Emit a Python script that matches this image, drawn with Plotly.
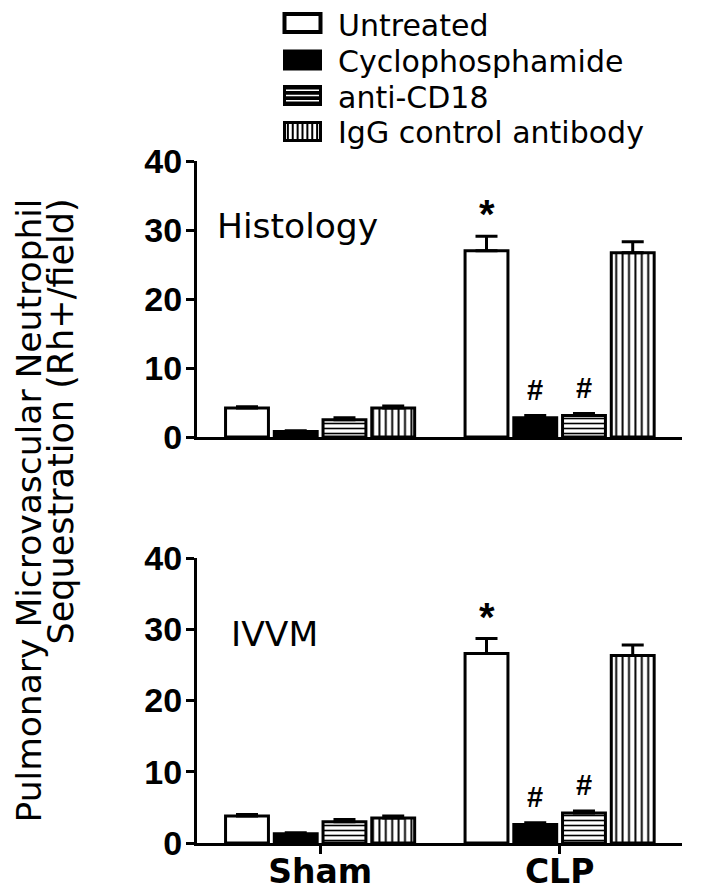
import plotly.graph_objects as go

# ---------------- data ----------------
groups = ["Sham", "CLP"]
series = ["Untreated", "Cyclophosphamide", "anti-CD18", "IgG control antibody"]

hist_untreated = [4.2, 27.0]
hist_cyclo = [0.8, 2.8]
hist_antiCD18 = [2.5, 3.1]
hist_igg = [4.2, 26.7]
hist_err_untreated = [0.2, 2.1]
hist_err_cyclo = [0.1, 0.3]
hist_err_antiCD18 = [0.3, 0.3]
hist_err_igg = [0.3, 1.6]

ivvm_untreated = [3.8, 26.6]
ivvm_cyclo = [1.3, 2.6]
ivvm_antiCD18 = [3.0, 4.2]
ivvm_igg = [3.5, 26.3]
ivvm_err_untreated = [0.2, 2.1]
ivvm_err_cyclo = [0.15, 0.25]
ivvm_err_antiCD18 = [0.3, 0.3]
ivvm_err_igg = [0.3, 1.5]

marks_untreated = ["", "*"]
marks_cyclo = ["", "#"]
marks_antiCD18 = ["", "#"]
marks_igg = ["", ""]

y_ticks = [0, 10, 20, 30, 40]
panel_labels = ["Histology", "IVVM"]
y_title_lines = ["Pulmonary Microvascular Neutrophil", "Sequestration (Rh+/field)"]

# ---------------- layout geometry ----------------
# the page body has an 8px default margin, so the figure is drawn 8px in
OFF = 8
W, H = 702 - OFF, 894 - OFF
L, R, T, B = 197 - OFF, 20, 161 - OFF, 51
PW, PH = W - L - R, H - T - B


def X(px):  # page pixel -> paper
    return (px - OFF - L) / PW


def Y(py):  # page pixel -> paper
    return (H - B - (py - OFF)) / PH


top_dom = [Y(437), 1.0]
bot_dom = [0.0, Y(558)]

bargap = 0.186
bargroupgap = 0.12
slot = (1 - bargap) / len(series)

TEXT_FONT = "DejaVu Sans"
TICK_FONT = "Liberation Sans"

styles = [
    dict(color="white", pattern=None),
    dict(color="black", pattern=None),
    dict(color="white", pattern=dict(shape="-", fgcolor="black", bgcolor="white", size=5, solidity=0.32)),
    dict(color="white", pattern=dict(shape="|", fgcolor="black", bgcolor="white", size=6.4, solidity=0.3)),
]

panels = [
    dict(xa="x", ya="y",
         means=[hist_untreated, hist_cyclo, hist_antiCD18, hist_igg],
         errs=[hist_err_untreated, hist_err_cyclo, hist_err_antiCD18, hist_err_igg]),
    dict(xa="x2", ya="y2",
         means=[ivvm_untreated, ivvm_cyclo, ivvm_antiCD18, ivvm_igg],
         errs=[ivvm_err_untreated, ivvm_err_cyclo, ivvm_err_antiCD18, ivvm_err_igg]),
]
marks = [marks_untreated, marks_cyclo, marks_antiCD18, marks_igg]

fig = go.Figure()
annotations = []
xpos = list(range(len(groups)))

for p in panels:
    for i, name in enumerate(series):
        st = styles[i]
        marker = dict(color=st["color"], line=dict(color="black", width=3))
        if st["pattern"] is not None:
            marker["pattern"] = st["pattern"]
        fig.add_trace(go.Bar(
            x=xpos, y=p["means"][i], name=name,
            marker=marker,
            error_y=dict(type="data", array=p["errs"][i], arrayminus=[0] * len(groups),
                         symmetric=False, color="black", thickness=3, width=11),
            xaxis=p["xa"], yaxis=p["ya"], showlegend=False, offsetgroup=str(i),
        ))
        for g in xpos:
            m = marks[i][g]
            if not m:
                continue
            xc = g + (i - (len(series) - 1) / 2) * slot
            top = p["means"][i][g] + p["errs"][i][g]
            if m == "*":
                annotations.append(dict(x=xc, y=top, xref=p["xa"], yref=p["ya"], text="<b>*</b>",
                                        showarrow=False, yanchor="middle", yshift=22,
                                        font=dict(family=TICK_FONT, size=40, color="black")))
            else:
                annotations.append(dict(x=xc, y=top, xref=p["xa"], yref=p["ya"], text="<b>#</b>",
                                        showarrow=False, yanchor="middle", yshift=26,
                                        font=dict(family=TICK_FONT, size=29, color="black")))

# panel labels
annotations.append(dict(x=X(215), y=Y(226), xref="paper", yref="paper", text=panel_labels[0],
                        showarrow=False, xanchor="left", yanchor="middle",
                        font=dict(family=TEXT_FONT, size=34.5, color="black")))
annotations.append(dict(x=X(229), y=Y(634), xref="paper", yref="paper", text=panel_labels[1],
                        showarrow=False, xanchor="left", yanchor="middle",
                        font=dict(family=TEXT_FONT, size=34.5, color="black")))

# y-axis title (two lines, rotated, end-aligned at the top)
for xc, fs, line in zip([28.5, 60.5], [34.5, 35], y_title_lines):
    annotations.append(dict(x=X(xc), y=Y(197), xref="paper", yref="paper", text=line,
                            showarrow=False, textangle=-90, xanchor="center", yanchor="top",
                            font=dict(family=TEXT_FONT, size=fs, color="black")))

# legend (manual)
shapes = []
swatch_rows = [23, 60, 95.5, 131.5]
text_rows = [26, 61.5, 97, 132.5]
sx0, sx1 = 283, 322
sh = 21
for i, name in enumerate(series):
    cy = swatch_rows[i]
    y0, y1 = cy - sh / 2, cy + sh / 2
    if i == 0:
        shapes.append(dict(type="rect", xref="paper", yref="paper", x0=X(sx0 + 1.5), x1=X(sx1 - 1.5),
                           y0=Y(y1 - 1.5), y1=Y(y0 + 1.5), fillcolor="white",
                           line=dict(color="black", width=4)))
    elif i == 1:
        shapes.append(dict(type="rect", xref="paper", yref="paper", x0=X(sx0), x1=X(sx1),
                           y0=Y(y1), y1=Y(y0), fillcolor="black", line=dict(width=0)))
    elif i == 2:
        shapes.append(dict(type="rect", xref="paper", yref="paper", x0=X(sx0), x1=X(sx1),
                           y0=Y(y1), y1=Y(y0), fillcolor="black", line=dict(width=0)))
        for k in range(1, 4):
            yy = y0 + k * sh / 4
            shapes.append(dict(type="line", xref="paper", yref="paper", x0=X(sx0 + 3), x1=X(sx1 - 3),
                               y0=Y(yy), y1=Y(yy), line=dict(color="white", width=1.3)))
    else:
        shapes.append(dict(type="rect", xref="paper", yref="paper", x0=X(sx0 + 1.5), x1=X(sx1 - 1.5),
                           y0=Y(y1 - 1.5), y1=Y(y0 + 1.5), fillcolor="white",
                           line=dict(color="black", width=3)))
        n = 8
        for k in range(1, n):
            xx = sx0 + k * (sx1 - sx0) / n
            shapes.append(dict(type="line", xref="paper", yref="paper", x0=X(xx), x1=X(xx),
                               y0=Y(y1), y1=Y(y0), line=dict(color="black", width=2)))
    annotations.append(dict(x=X(336), y=Y(text_rows[i]), xref="paper", yref="paper", text=name,
                            showarrow=False, xanchor="left", yanchor="middle",
                            font=dict(family=TEXT_FONT, size=30, color="black")))

xrange = [-0.514, 1.511]
common_x = dict(range=xrange, showline=True, linecolor="black", linewidth=3, showgrid=False,
                zeroline=False, tickvals=xpos, ticktext=groups, automargin=False)
common_y = dict(range=[0, 40], tickvals=y_ticks, showline=True, linecolor="black", linewidth=3,
                ticks="outside", ticklen=8, tickwidth=3, tickcolor="black", showgrid=False,
                zeroline=False, automargin=False, ticklabelstandoff=-3,
                tickfont=dict(family=TICK_FONT, size=34, color="black", weight="bold"))

fig.update_layout(
    width=W, height=H, template="none",
    paper_bgcolor="white", plot_bgcolor="white",
    margin=dict(l=L, r=R, t=T, b=B, autoexpand=False),
    barmode="group", bargap=bargap, bargroupgap=bargroupgap,
    xaxis=dict(anchor="y", domain=[0, 1], ticks="", showticklabels=False, **common_x),
    yaxis=dict(anchor="x", domain=top_dom, **common_y),
    xaxis2=dict(anchor="y2", domain=[0, 1], ticks="outside", ticklen=8, tickwidth=3,
                tickcolor="black", ticklabelstandoff=-11,
                tickfont=dict(family=TEXT_FONT, size=33, color="black", weight="bold"), **common_x),
    yaxis2=dict(anchor="x2", domain=bot_dom, **common_y),
    annotations=annotations, shapes=shapes, showlegend=False,
)

fig.write_html("out.html")
